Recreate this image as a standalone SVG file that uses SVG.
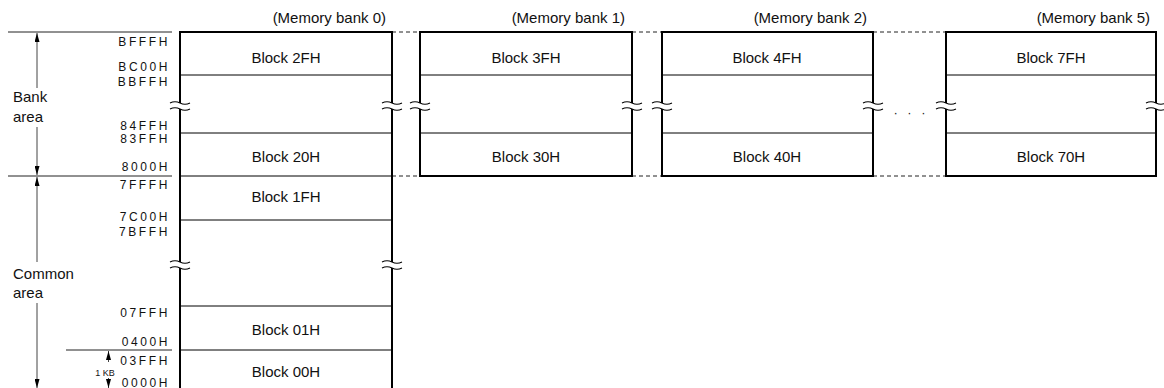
<svg xmlns="http://www.w3.org/2000/svg" width="1164" height="388" viewBox="0 0 1164 388">
<defs>
<style>
.lbl{font-family:"Liberation Sans",Arial,sans-serif;font-size:15px;fill:#111}
.blk{font-family:"Liberation Sans",Arial,sans-serif;font-size:15px;fill:#111;text-anchor:middle}
.bk{font-family:"Liberation Sans",Arial,sans-serif;font-size:15px;fill:#111;text-anchor:end}
.adr{font-family:"Liberation Sans",Arial,sans-serif;font-size:12px;fill:#111;text-anchor:end;letter-spacing:2.6px}
.box{fill:none;stroke:#000;stroke-width:2}
.div{stroke:#000;stroke-width:1;fill:none}
.thin{stroke:#222;stroke-width:1;fill:none}
.dash{stroke:#222;stroke-width:1;stroke-dasharray:4 3;fill:none}
.arr{stroke:#444;stroke-width:1;fill:none}
.wave{stroke:#000;stroke-width:1.1;fill:none}
</style>
<marker id="ah" viewBox="0 0 10 10" refX="10" refY="5" markerWidth="9" markerHeight="5" preserveAspectRatio="none" orient="auto-start-reverse" markerUnits="userSpaceOnUse">
<path d="M0,0 L10,5 L0,10 z" fill="#000"/>
</marker>
<g id="brk">
<rect x="-3" y="-3" width="6" height="6" fill="#fff"/>
<path class="wave" d="M-10,-3 q5,-2.5 10,0 t10,0"/>
<path class="wave" d="M-10,3 q5,-2.5 10,0 t10,0"/>
</g>
</defs>

<g id="connectors">
<line class="dash" x1="392" y1="32" x2="420" y2="32"/>
<line class="dash" x1="632" y1="32" x2="662" y2="32"/>
<line class="dash" x1="873" y1="32" x2="946" y2="32"/>
<line class="dash" x1="392" y1="176" x2="420" y2="176"/>
<line class="dash" x1="632" y1="176" x2="662" y2="176"/>
<line class="dash" x1="873" y1="176" x2="946" y2="176"/>
</g>

<g id="left-scale">
<line class="thin" x1="8" y1="32" x2="172" y2="32"/>
<line class="thin" x1="8" y1="176" x2="172" y2="176"/>
<line class="thin" x1="66" y1="350" x2="172" y2="350"/>
<line class="arr" x1="37" y1="88" x2="37" y2="33" marker-end="url(#ah)"/>
<line class="arr" x1="37" y1="127" x2="37" y2="175" marker-end="url(#ah)"/>
<line class="arr" x1="37" y1="262" x2="37" y2="177" marker-end="url(#ah)"/>
<line class="arr" x1="37" y1="303" x2="37" y2="388" marker-end="url(#ah)"/>
<text class="lbl" x="13" y="102">Bank</text>
<text class="lbl" x="13" y="122">area</text>
<text class="lbl" x="13" y="279">Common</text>
<text class="lbl" x="13" y="298">area</text>
<line class="arr" x1="108.5" y1="362" x2="108.5" y2="351" marker-end="url(#ah)"/>
<line class="arr" x1="108.5" y1="378" x2="108.5" y2="388" marker-end="url(#ah)"/>
<text x="105" y="376" style="font-family:'Liberation Sans',Arial,sans-serif;font-size:9px;fill:#111;text-anchor:middle">1 KB</text>
<text class="adr" x="170" y="46">BFFFH</text>
<text class="adr" x="170" y="71">BC00H</text>
<text class="adr" x="170" y="86">BBFFH</text>
<text class="adr" x="170" y="130">84FFH</text>
<text class="adr" x="170" y="143">83FFH</text>
<text class="adr" x="170" y="171">8000H</text>
<text class="adr" x="170" y="189">7FFFH</text>
<text class="adr" x="170" y="221">7C00H</text>
<text class="adr" x="170" y="236">7BFFH</text>
<text class="adr" x="170" y="317">07FFH</text>
<text class="adr" x="170" y="346">0400H</text>
<text class="adr" x="170" y="365">03FFH</text>
<text class="adr" x="170" y="387">0000H</text>
</g>

<g id="bank0">
<text class="bk" x="386" y="23">(Memory bank 0)</text>
<path class="box" d="M180,392 V32 H392 V392"/>
<line class="div" x1="180" y1="75" x2="392" y2="75"/>
<line class="div" x1="180" y1="133" x2="392" y2="133"/>
<line class="div" x1="180" y1="176" x2="392" y2="176"/>
<line class="div" x1="180" y1="220" x2="392" y2="220"/>
<line class="div" x1="180" y1="306" x2="392" y2="306"/>
<line class="div" x1="180" y1="350" x2="392" y2="350"/>
<text class="blk" x="286" y="63">Block 2FH</text>
<text class="blk" x="286" y="162">Block 20H</text>
<text class="blk" x="286" y="202">Block 1FH</text>
<text class="blk" x="286" y="335">Block 01H</text>
<text class="blk" x="286" y="377">Block 00H</text>
<use href="#brk" x="180" y="106"/>
<use href="#brk" x="392" y="106"/>
<use href="#brk" x="180" y="265"/>
<use href="#brk" x="392" y="265"/>
</g>

<g id="bank1">
<text class="bk" x="625" y="23">(Memory bank 1)</text>
<rect class="box" x="420" y="32" width="212" height="144"/>
<line class="div" x1="420" y1="75" x2="632" y2="75"/>
<line class="div" x1="420" y1="133" x2="632" y2="133"/>
<text class="blk" x="526" y="63">Block 3FH</text>
<text class="blk" x="526" y="162">Block 30H</text>
<use href="#brk" x="420" y="106"/>
<use href="#brk" x="632" y="106"/>
</g>

<g id="bank2">
<text class="bk" x="867" y="23">(Memory bank 2)</text>
<rect class="box" x="662" y="32" width="211" height="144"/>
<line class="div" x1="662" y1="75" x2="873" y2="75"/>
<line class="div" x1="662" y1="133" x2="873" y2="133"/>
<text class="blk" x="767" y="63">Block 4FH</text>
<text class="blk" x="767" y="162">Block 40H</text>
<use href="#brk" x="662" y="106"/>
<use href="#brk" x="873" y="106"/>
</g>

<g id="ellipsis">
<text x="911" y="117" style="font-family:'Liberation Sans',Arial,sans-serif;font-size:13px;fill:#222;text-anchor:middle;letter-spacing:3px">· · ·</text>
</g>

<g id="bank5">
<text class="bk" x="1150" y="23">(Memory bank 5)</text>
<rect class="box" x="946" y="32" width="210" height="144"/>
<line class="div" x1="946" y1="75" x2="1156" y2="75"/>
<line class="div" x1="946" y1="133" x2="1156" y2="133"/>
<text class="blk" x="1051" y="63">Block 7FH</text>
<text class="blk" x="1051" y="162">Block 70H</text>
<use href="#brk" x="946" y="106"/>
<use href="#brk" x="1156" y="106"/>
</g>
</svg>
